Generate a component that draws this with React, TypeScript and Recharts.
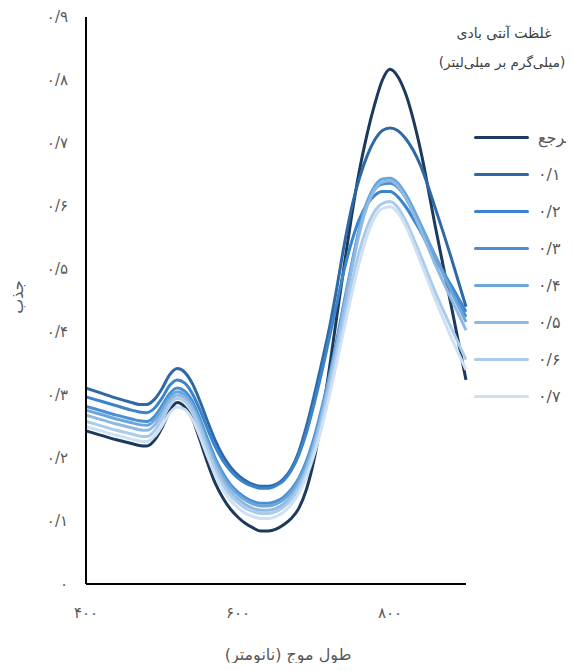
import React from 'react';
import { LineChart, Line, XAxis, YAxis } from 'recharts';

const wavelengths = [400, 420, 440, 460, 470, 480, 490, 500, 510, 520, 530, 540, 550, 560, 570, 580, 590, 600, 610, 620, 630, 640, 650, 660, 670, 680, 690, 700, 710, 720, 730, 740, 750, 760, 770, 780, 790, 800, 810, 820, 840, 860, 880, 900];

const refValues = [0.243, 0.236, 0.229, 0.223, 0.220, 0.219, 0.228, 0.248, 0.274, 0.288, 0.281, 0.262, 0.228, 0.192, 0.160, 0.137, 0.119, 0.106, 0.096, 0.089, 0.084, 0.084, 0.087, 0.094, 0.104, 0.120, 0.150, 0.197, 0.262, 0.340, 0.425, 0.508, 0.588, 0.658, 0.715, 0.762, 0.800, 0.817, 0.806, 0.780, 0.690, 0.565, 0.445, 0.324];
const c01Values = [0.311, 0.303, 0.295, 0.288, 0.285, 0.285, 0.293, 0.310, 0.332, 0.342, 0.336, 0.318, 0.290, 0.258, 0.228, 0.204, 0.186, 0.173, 0.164, 0.158, 0.155, 0.155, 0.158, 0.167, 0.183, 0.210, 0.250, 0.298, 0.350, 0.405, 0.470, 0.540, 0.600, 0.645, 0.680, 0.705, 0.720, 0.724, 0.720, 0.708, 0.665, 0.595, 0.520, 0.440];
const c02Values = [0.297, 0.290, 0.283, 0.276, 0.273, 0.272, 0.279, 0.295, 0.315, 0.324, 0.319, 0.302, 0.276, 0.246, 0.218, 0.196, 0.180, 0.168, 0.160, 0.155, 0.152, 0.152, 0.156, 0.164, 0.180, 0.205, 0.240, 0.285, 0.335, 0.390, 0.445, 0.500, 0.545, 0.580, 0.603, 0.617, 0.623, 0.623, 0.615, 0.600, 0.560, 0.515, 0.475, 0.432];
const c03Values = [0.282, 0.275, 0.268, 0.262, 0.259, 0.258, 0.266, 0.283, 0.302, 0.311, 0.306, 0.290, 0.262, 0.230, 0.200, 0.176, 0.158, 0.146, 0.137, 0.131, 0.128, 0.128, 0.131, 0.138, 0.150, 0.168, 0.195, 0.232, 0.278, 0.330, 0.388, 0.450, 0.510, 0.565, 0.605, 0.627, 0.635, 0.636, 0.630, 0.615, 0.570, 0.520, 0.472, 0.424];
const c04Values = [0.276, 0.269, 0.262, 0.256, 0.253, 0.252, 0.260, 0.277, 0.296, 0.305, 0.300, 0.284, 0.257, 0.225, 0.196, 0.172, 0.154, 0.142, 0.133, 0.127, 0.124, 0.124, 0.127, 0.134, 0.146, 0.164, 0.190, 0.226, 0.272, 0.325, 0.382, 0.445, 0.508, 0.565, 0.607, 0.632, 0.643, 0.644, 0.637, 0.620, 0.572, 0.518, 0.466, 0.416];
const c05Values = [0.268, 0.261, 0.254, 0.248, 0.245, 0.244, 0.252, 0.270, 0.290, 0.300, 0.295, 0.279, 0.252, 0.219, 0.189, 0.165, 0.147, 0.135, 0.126, 0.120, 0.117, 0.117, 0.120, 0.127, 0.139, 0.157, 0.183, 0.220, 0.266, 0.320, 0.378, 0.440, 0.502, 0.558, 0.600, 0.626, 0.638, 0.640, 0.632, 0.614, 0.563, 0.506, 0.454, 0.403];
const c06Values = [0.258, 0.251, 0.244, 0.238, 0.235, 0.234, 0.243, 0.262, 0.284, 0.295, 0.290, 0.273, 0.245, 0.212, 0.182, 0.158, 0.141, 0.129, 0.120, 0.115, 0.112, 0.112, 0.115, 0.122, 0.134, 0.152, 0.178, 0.213, 0.258, 0.310, 0.366, 0.424, 0.480, 0.530, 0.567, 0.592, 0.604, 0.607, 0.598, 0.578, 0.522, 0.462, 0.408, 0.356];
const c07Values = [0.250, 0.243, 0.236, 0.230, 0.227, 0.226, 0.234, 0.251, 0.271, 0.281, 0.277, 0.261, 0.234, 0.202, 0.173, 0.150, 0.133, 0.121, 0.112, 0.107, 0.104, 0.104, 0.107, 0.114, 0.126, 0.144, 0.170, 0.205, 0.248, 0.298, 0.352, 0.408, 0.462, 0.512, 0.553, 0.582, 0.596, 0.599, 0.590, 0.570, 0.512, 0.450, 0.393, 0.340];

const seriesKeys = ['ref', 'c01', 'c02', 'c03', 'c04', 'c05', 'c06', 'c07'];
const seriesNames = ['مرجع', '۰/۱', '۰/۲', '۰/۳', '۰/۴', '۰/۵', '۰/۶', '۰/۷'];
const seriesColors = ['#1b3a5c', '#2e69a6', '#3a84cb', '#4a8fd1', '#6ba6da', '#8fb9e3', '#abcbeb', '#cde0f4'];
const seriesValues = [refValues, c01Values, c02Values, c03Values, c04Values, c05Values, c06Values, c07Values];

const xTicks = [400, 600, 800];
const xTickLabels = ['۴۰۰', '۶۰۰', '۸۰۰'];
const yTicks = [0, 0.1, 0.2, 0.3, 0.4, 0.5, 0.6, 0.7, 0.8, 0.9];
const yTickLabels = ['۰', '۰/۱', '۰/۲', '۰/۳', '۰/۴', '۰/۵', '۰/۶', '۰/۷', '۰/۸', '۰/۹'];

const legendTitle1 = 'غلظت آنتی بادی';
const legendTitle2 = '(میلی‌گرم بر میلی‌لیتر)';
const xTitle = 'طول موج (نانومتر)';
const yTitle = 'جذب';

const data = wavelengths.map((wl, i) => {
  const row: Record<string, number> = { wl };
  seriesKeys.forEach((k, j) => {
    row[k] = seriesValues[j][i];
  });
  return row;
});

const FONT = "'DejaVu Sans', 'Noto Sans', sans-serif";
const GRAY = '#595959';

export default function App() {
  return (
    <div style={{ position: 'relative', width: 558, height: 655, fontFamily: FONT }}>
      <LineChart width={558} height={655} data={data} margin={{ top: 9, right: 100, bottom: 19, left: 28 }}>
        <XAxis
          dataKey="wl"
          type="number"
          domain={[400, 900]}
          ticks={xTicks}
          tickFormatter={(v: number) => xTickLabels[xTicks.indexOf(v)] ?? ''}
          tickLine={false}
          tickSize={0}
          tickMargin={23}
          height={60}
          axisLine={{ stroke: '#000', strokeWidth: 2 }}
          tick={{ fill: GRAY, fontSize: 15, fontFamily: FONT }}
          interval={0}
        />
        <YAxis
          type="number"
          domain={[0, 0.9]}
          ticks={yTicks}
          tickFormatter={(v: number) => {
            const idx = yTicks.findIndex((t) => Math.abs(t - v) < 1e-9);
            return idx >= 0 ? yTickLabels[idx] : '';
          }}
          tickLine={false}
          tickSize={0}
          tickMargin={18}
          width={50}
          axisLine={{ stroke: '#000', strokeWidth: 2 }}
          tick={{ fill: GRAY, fontSize: 15, fontFamily: FONT }}
          interval={0}
        />
        {seriesKeys.map((k, j) => (
          <Line
            key={k}
            type="monotone"
            dataKey={k}
            name={seriesNames[j]}
            stroke={seriesColors[j]}
            strokeWidth={3}
            dot={false}
            activeDot={false}
            isAnimationActive={false}
          />
        ))}
      </LineChart>

      <div style={{ position: 'absolute', left: 406, top: 14, width: 180, textAlign: 'center', direction: 'rtl', fontSize: 14, lineHeight: '22px', color: '#404040' }}>
        {legendTitle1}
      </div>
      <div style={{ position: 'absolute', left: 404, top: 43, width: 180, textAlign: 'center', direction: 'rtl', fontSize: 13.5, lineHeight: '22px', color: '#404040', whiteSpace: 'nowrap' }}>
        {legendTitle2}
      </div>

      {seriesNames.map((name, j) => (
        <div key={name} style={{ position: 'absolute', left: 466, top: 129.7 + 37 * j - 11, height: 22, display: 'flex', alignItems: 'center' }}>
          <div style={{ width: 55, height: 3.5, background: seriesColors[j], borderRadius: 2 }} />
          <div style={{ marginLeft: 9, fontSize: 16, color: GRAY, lineHeight: '22px', whiteSpace: 'nowrap' }}>{name}</div>
        </div>
      ))}

      <div style={{ position: 'absolute', left: 170, top: 636, width: 220, textAlign: 'center', direction: 'rtl', fontSize: 16, lineHeight: '22px', color: GRAY }}>
        {xTitle}
      </div>
      <div style={{ position: 'absolute', left: -20, top: 278, width: 60, height: 22, textAlign: 'center', direction: 'rtl', fontSize: 16, lineHeight: '22px', color: GRAY, transform: 'rotate(-90deg)' }}>
        {yTitle}
      </div>
    </div>
  );
}
